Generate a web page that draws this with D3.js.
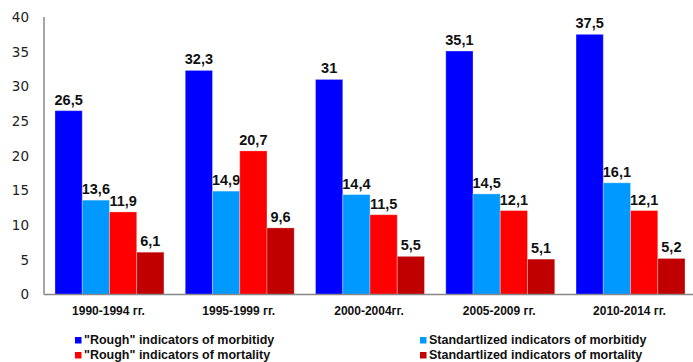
<!DOCTYPE html>
<html>
<head>
<meta charset="utf-8">
<script src="https://cdn.jsdelivr.net/npm/d3@7/dist/d3.min.js"></script>
<style>
  html, body { margin: 0; padding: 0; background: #fff; }
  svg { display: block; }
</style>
</head>
<body>
<svg id="chart" width="693" height="362"></svg>
<script>
// Periods along the x axis
const periods = ["1990-1994 гг.", "1995-1999 гг.", "2000-2004гг.", "2005-2009 гг.", "2010-2014 гг."];

// Indicator series, one value per period
const roughMorbidity = [26.5, 32.3, 31, 35.1, 37.5];
const stdMorbidity   = [13.6, 14.9, 14.4, 14.5, 16.1];
const roughMortality = [11.9, 20.7, 11.5, 12.1, 12.1];
const stdMortality   = [6.1, 9.6, 5.5, 5.1, 5.2];

const seriesNames = [
  "\"Rough\" indicators of morbitidy",
  "Standartlized indicators of morbitidy",
  "\"Rough\" indicators of mortality",
  "Standartlized indicators of mortality"
];
const seriesValues = [roughMorbidity, stdMorbidity, roughMortality, stdMortality];
const seriesColors = ["#0000ff", "#0099ff", "#ff0000", "#c00000"];

const yTicks = [0, 5, 10, 15, 20, 25, 30, 35, 40];

const svg = d3.select("#chart");
const m = { left: 44, right: 696, top: 17, bottom: 294.5 };

const x0 = d3.scaleBand().domain(periods).range([m.left, m.right])
  .paddingInner(0.1635).paddingOuter(0.0844);
const x1 = d3.scaleBand().domain(d3.range(4)).range([0, x0.bandwidth()]);
const y = d3.scaleLinear().domain([0, 40]).range([m.bottom, m.top]);

// Y axis labels
svg.append("g").selectAll("text").data(yTicks).join("text")
  .attr("x", 29).attr("y", d => y(d)).attr("dy", "0.36em")
  .attr("text-anchor", "end")
  .attr("font-family", "DejaVu Sans, Verdana, sans-serif")
  .attr("font-size", 13.5).attr("fill", "#222")
  .text(d => d);

// Bars with value labels
const groups = svg.append("g").selectAll("g").data(periods).join("g")
  .attr("transform", p => `translate(${x0(p)},0)`);

groups.each(function(p, i) {
  const g = d3.select(this);
  seriesValues.forEach((vals, s) => {
    const v = vals[i];
    g.append("rect")
      .attr("x", x1(s)).attr("width", x1.bandwidth())
      .attr("y", y(v)).attr("height", y(0) - y(v))
      .attr("fill", seriesColors[s])
      .attr("stroke", "rgba(255,255,255,0.3)").attr("stroke-width", 1);
    g.append("text")
      .attr("x", x1(s) + x1.bandwidth() / 2).attr("y", y(v) - 6)
      .attr("text-anchor", "middle")
      .attr("font-family", "Liberation Sans, Arial, sans-serif")
      .attr("font-weight", "bold").attr("font-size", 14.5).attr("fill", "#111")
      .text(String(v).replace(".", ","));
  });
});

// Axis lines
svg.append("line").attr("x1", m.left).attr("x2", m.left).attr("y1", m.top).attr("y2", m.bottom)
  .attr("stroke", "#888").attr("stroke-width", 1.5);
svg.append("line").attr("x1", m.left).attr("x2", 693).attr("y1", m.bottom).attr("y2", m.bottom)
  .attr("stroke", "#888").attr("stroke-width", 1.5);

// Period labels
svg.append("g").selectAll("text").data(periods).join("text")
  .attr("x", p => x0(p) + x0.bandwidth() / 2 - 1).attr("y", 315)
  .attr("text-anchor", "middle")
  .attr("font-family", "Liberation Sans, Arial, sans-serif")
  .attr("font-weight", "bold").attr("font-size", 12).attr("fill", "#111")
  .text(p => p);

// Legend
const legendPos = [[75, 344], [420, 344], [75, 359], [420, 359]];
const legend = svg.append("g").selectAll("g").data(seriesNames).join("g")
  .attr("transform", (d, i) => `translate(${legendPos[i][0]},${legendPos[i][1]})`);
legend.append("rect").attr("x", 0).attr("y", -7).attr("width", 6.5).attr("height", 6.5)
  .attr("fill", (d, i) => seriesColors[i]);
legend.append("text").attr("x", 9).attr("y", 0)
  .attr("font-family", "Liberation Sans, Arial, sans-serif")
  .attr("font-weight", "bold").attr("font-size", 12.5).attr("fill", "#111")
  .text(d => d);
</script>
</body>
</html>
